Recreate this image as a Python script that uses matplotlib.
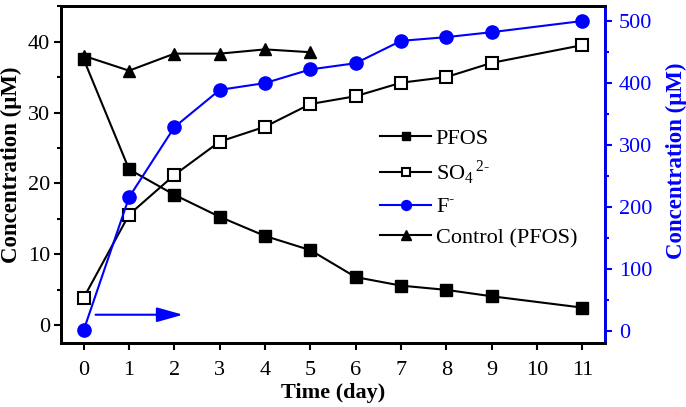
import matplotlib.pyplot as plt
from matplotlib.ticker import MultipleLocator

plt.rcParams['font.family'] = ['Liberation Serif', 'DejaVu Serif']
plt.rcParams['mathtext.fontset'] = 'custom'
plt.rcParams['mathtext.rm'] = 'Liberation Serif'

# Daten
tage = [0, 1, 2, 3, 4, 5, 6, 7, 8, 9, 11]
pfos = [37.5, 22.0, 18.4, 15.3, 12.6, 10.6, 6.8, 5.6, 5.0, 4.1, 2.5]
sulfat = [3.9, 15.6, 21.2, 25.9, 28.0, 31.2, 32.3, 34.2, 35.0, 37.0, 39.5]
fluorid = [2, 216, 329, 389, 400, 422, 432, 468, 474, 482, 500]
kontroll_tage = [0, 1, 2, 3, 4, 5]
kontroll = [38.0, 35.9, 38.3, 38.3, 38.9, 38.5]
x_ticks = [0, 1, 2, 3, 4, 5, 6, 7, 8, 9, 10, 11]

fig, ax = plt.subplots(figsize=(6.86, 4.07), dpi=100)
fig.subplots_adjust(left=0.089, right=0.882, top=0.985, bottom=0.157)
ax2 = ax.twinx()

l1, = ax.plot(tage, pfos, color='black', marker='s', markersize=8, lw=1.5, label='PFOS')
l2, = ax.plot(tage, sulfat, color='black', marker='s', markersize=8, mfc='white', mew=1.5,
              lw=1.5, label='SO$_{4}$$^{\\,2\\text{-}}$')
l3, = ax2.plot(tage, fluorid, color='blue', marker='o', markersize=9.5, lw=1.5, label='F$^{\\text{-}}$')
l4, = ax.plot(kontroll_tage, kontroll, color='black', marker='^', markersize=9, lw=1.5,
              label='Control (PFOS)')

# Pfeil nach rechts
ax.annotate('', xy=(2.25, 1.5), xytext=(0.2, 1.5),
            arrowprops=dict(arrowstyle='-|>,head_length=1.6,head_width=0.45', color='blue', lw=1.5))

ax.set_xlim(-0.5, 11.5)
ax.set_ylim(-2.5, 45)
ax2.set_ylim(-19, 524)
ax.set_xticks(x_ticks)
ax.yaxis.set_major_locator(MultipleLocator(10))
ax.yaxis.set_minor_locator(MultipleLocator(5))
ax2.yaxis.set_major_locator(MultipleLocator(100))
ax2.yaxis.set_minor_locator(MultipleLocator(50))

ax.set_xlabel('Time (day)', fontsize=16, fontweight='bold', labelpad=2)
ax.set_ylabel('Concentration (μM)', fontsize=16.5, fontweight='bold', labelpad=4, y=0.53)
ax2.set_ylabel('Concentration (μM)', fontsize=16.5, fontweight='bold', color='blue', labelpad=10, y=0.54)

ax.tick_params(axis='x', which='major', labelsize=16, width=1.5, length=5, pad=8)
ax.tick_params(axis='y', which='major', labelsize=16, width=1.5, length=5, pad=3)
ax.tick_params(axis='y', which='minor', width=1.5, length=3)
ax2.tick_params(axis='y', which='major', labelsize=16, width=1.5, length=5, pad=5, colors='blue')
ax2.tick_params(axis='y', which='minor', width=1.5, length=3, colors='blue')

for s in ax.spines.values():
    s.set_linewidth(2)
for s in ax2.spines.values():
    s.set_linewidth(2)
ax2.spines['right'].set_color('blue')

ax.legend(handles=[l1, l2, l3, l4], loc='center left', bbox_to_anchor=(0.55, 0.46),
          frameon=False, fontsize=16, handlelength=2.3, handletextpad=0.2, labelspacing=0.45,
          markerscale=0.75)

plt.savefig('out.png', dpi=100)
